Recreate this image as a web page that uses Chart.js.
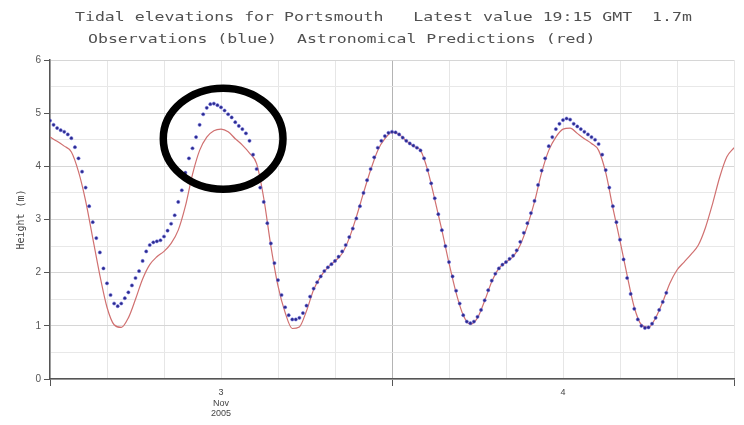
<!DOCTYPE html>
<html>
<head>
<meta charset="utf-8">
<script src="https://cdn.jsdelivr.net/npm/chart.js@4.4.0/dist/chart.umd.min.js"></script>
<style>
    html, body { margin: 0; padding: 0; background: #fff; }
    #wrap { width: 744px; height: 425px; }
</style>
</head>
<body>
<div id="wrap"><canvas id="tide" width="744" height="425"></canvas></div>
<script>
/* ------------------------------------------------------------
   Data – Portsmouth tide gauge, 3–4 Nov 2005 (hours from 3 Nov 00:00)
------------------------------------------------------------ */
const titleLines = [
    "Tidal elevations for Portsmouth   Latest value 19:15 GMT  1.7m",
    "Observations (blue)  Astronomical Predictions (red)"
];
const yAxisTitle = "Height (m)";
const dayLabels = { 12: ["3", "Nov", "2005"], 36: ["4"] };

// astronomical predictions, every 30 min from 00:00 on the 3rd to 00:00 on the 5th
const predStepHours = 0.5;
const predictions = [
    4.55, 4.47, 4.38, 4.27, 3.9, 3.35, 2.65, 1.95, 1.35, 1.02,
    0.97, 1.15, 1.5, 1.88, 2.15, 2.3, 2.4, 2.55, 2.8, 3.25,
    3.85, 4.3, 4.55, 4.67, 4.7, 4.65, 4.52, 4.4, 4.25, 4.05,
    3.4, 2.5, 1.75, 1.25, 0.95, 0.98, 1.28, 1.68, 1.93, 2.1,
    2.22, 2.36, 2.65, 3.05, 3.5, 3.93, 4.3, 4.52, 4.64, 4.6,
    4.48, 4.38, 4.3, 3.93, 3.38, 2.8, 2.18, 1.62, 1.2, 1.03,
    1.15, 1.47, 1.83, 2.08, 2.2, 2.3, 2.52, 2.88, 3.33, 3.88,
    4.3, 4.55, 4.7, 4.72, 4.62, 4.52, 4.43, 4.3, 3.88, 3.22,
    2.6, 1.95, 1.35, 1.02, 0.97, 1.15, 1.45, 1.8, 2.05, 2.2,
    2.35, 2.52, 2.85, 3.3, 3.8, 4.18, 4.35
];

// observations, every 15 min from 00:00 on the 3rd up to 19:15 on the 4th
const obsStepHours = 0.25;
const observations = [
    4.86, 4.78, 4.72, 4.68, 4.65, 4.6, 4.53, 4.36, 4.15, 3.9,
    3.6, 3.25, 2.95, 2.65, 2.38, 2.08, 1.8, 1.58, 1.42, 1.37,
    1.42, 1.52, 1.63, 1.76, 1.9, 2.03, 2.22, 2.4, 2.52, 2.57,
    2.59, 2.61, 2.68, 2.79, 2.92, 3.08, 3.33, 3.55, 3.88, 4.15,
    4.34, 4.55, 4.78, 4.98, 5.1, 5.17, 5.18, 5.15, 5.11, 5.05,
    4.98, 4.92, 4.83, 4.76, 4.7, 4.62, 4.48, 4.22, 3.95, 3.6,
    3.33, 2.93, 2.55, 2.18, 1.86, 1.58, 1.35, 1.2, 1.12, 1.12,
    1.15, 1.24, 1.38, 1.55, 1.7, 1.82, 1.93, 2.03, 2.1, 2.16,
    2.22, 2.3, 2.4, 2.52, 2.67, 2.83, 3.02, 3.25, 3.5, 3.74,
    3.95, 4.17, 4.35, 4.48, 4.57, 4.63, 4.65, 4.64, 4.6, 4.54,
    4.48, 4.43, 4.39, 4.35, 4.3, 4.15, 3.93, 3.68, 3.4, 3.1,
    2.8, 2.5, 2.2, 1.93, 1.66, 1.42, 1.2, 1.08, 1.05, 1.08,
    1.17, 1.3, 1.48, 1.67, 1.85, 1.98, 2.08, 2.15, 2.2, 2.26,
    2.32, 2.42, 2.58, 2.75, 2.93, 3.12, 3.35, 3.65, 3.92, 4.15,
    4.38, 4.55, 4.7, 4.8, 4.87, 4.9, 4.88, 4.8, 4.75, 4.7,
    4.65, 4.6, 4.55, 4.5, 4.42, 4.22, 3.93, 3.6, 3.25, 2.95,
    2.62, 2.25, 1.9, 1.6, 1.32, 1.12, 1.0, 0.96, 0.97, 1.04,
    1.15, 1.3, 1.45, 1.62
];

/* ------------------------------------------------------------
   Plugins : two-line mono header + hand-drawn ring on 1st high water
------------------------------------------------------------ */
const headerPlugin = {
    id: "header",
    afterDraw(chart) {
        const c = chart.ctx;
        c.save();
        c.font = '13px "DejaVu Sans Mono"';
        c.fillStyle = "#505050";
        c.textBaseline = "middle";
        const sx = 9.95 / c.measureText("M").width;
        const spots = [[75, 18], [88, 40]];
        titleLines.forEach((line, i) => {
            c.save();
            c.translate(spots[i][0], spots[i][1]);
            c.scale(sx, 1);
            c.fillText(line, 0, 0);
            c.restore();
        });
        c.restore();
    }
};

const ringPlugin = {
    id: "ring",
    afterDatasetsDraw(chart) {
        const { x, y } = chart.scales;
        const cx = x.getPixelForValue(12.15);
        const cy = y.getPixelForValue(4.52);
        const rx = x.getPixelForValue(12.15 + 4.2) - cx;
        const ry = cy - y.getPixelForValue(4.52 + 0.95);
        const c = chart.ctx;
        c.save();
        c.beginPath();
        c.ellipse(cx, cy, rx, ry, 0, 0, Math.PI * 2);
        c.lineWidth = 7.5;
        c.strokeStyle = "#000";
        c.stroke();
        c.restore();
    }
};

/* ------------------------------------------------------------
   Chart
------------------------------------------------------------ */
const predPoints = predictions.map((v, i) => ({ x: i * predStepHours, y: v }));
const obsPoints = observations.map((v, i) => ({ x: i * obsStepHours, y: v }));

new Chart(document.getElementById("tide"), {
    type: "scatter",
    data: {
        datasets: [
            {
                label: "Observations",
                data: obsPoints,
                showLine: false,
                pointRadius: 1.6,
                pointBackgroundColor: "#2b2b8a",
                pointBorderColor: "rgba(100,100,225,0.5)",
                pointBorderWidth: 1,
                order: 1
            },
            {
                label: "Predictions",
                data: predPoints,
                showLine: true,
                borderColor: "#d07070",
                borderWidth: 1.2,
                pointRadius: 0,
                cubicInterpolationMode: "monotone",
                order: 2
            }
        ]
    },
    options: {
        responsive: false,
        animation: false,
        layout: { padding: { top: 60, right: 10, left: 0, bottom: 0 } },
        plugins: {
            legend: { display: false },
            tooltip: { enabled: false },
            title: { display: false }
        },
        scales: {
            x: {
                type: "linear",
                min: 0,
                max: 48,
                afterFit: s => { s.height = 46; },
                ticks: {
                    stepSize: 4,
                    autoSkip: false,
                    maxRotation: 0,
                    padding: 1,
                    color: "#444",
                    font: { family: "Liberation Sans", size: 9 },
                    callback: v => dayLabels[v] || ""
                },
                grid: {
                    color: ctx => ctx.tick && ctx.tick.value === 24 ? "#b4b4b4" : "#e6e6e6",
                    tickLength: 7,
                    tickColor: ctx => [0, 24, 48].includes(ctx.tick && ctx.tick.value) ? "#555" : "rgba(0,0,0,0)"
                },
                border: { color: "#555", width: 1.5 }
            },
            y: {
                min: 0,
                max: 6,
                afterFit: s => { s.width = 50; },
                ticks: {
                    stepSize: 0.5,
                    padding: 3,
                    color: "#555",
                    font: { family: "Liberation Sans", size: 10 },
                    callback: v => Number.isInteger(v) ? v : ""
                },
                grid: {
                    color: ctx => ctx.tick && Number.isInteger(ctx.tick.value) ? "#d6d6d6" : "#e8e8e8",
                    tickLength: 6,
                    tickColor: ctx => ctx.tick && Number.isInteger(ctx.tick.value) ? "#555" : "rgba(0,0,0,0)"
                },
                border: { color: "#555", width: 1.5 },
                title: {
                    display: true,
                    text: yAxisTitle,
                    color: "#444",
                    font: { family: "DejaVu Sans Mono", size: 10 },
                    padding: { top: 15, bottom: 0 }
                }
            }
        }
    },
    plugins: [headerPlugin, ringPlugin]
});
</script>
</body>
</html>
